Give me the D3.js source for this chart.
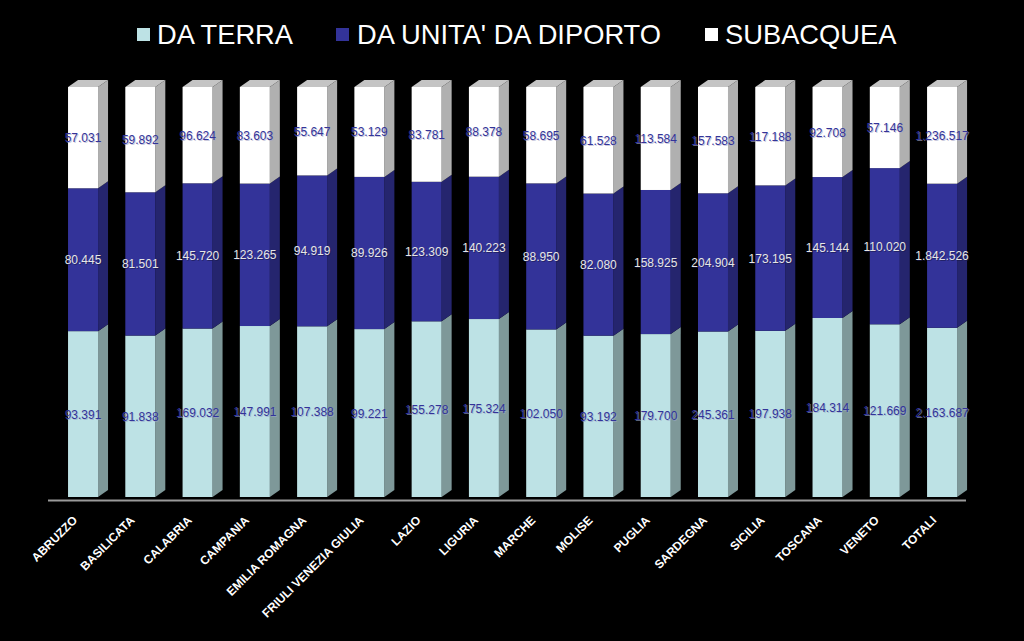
<!DOCTYPE html>
<html>
<head>
<meta charset="utf-8">
<script src="https://cdn.jsdelivr.net/npm/d3@7/dist/d3.min.js"></script>
<style>
  html, body { margin: 0; padding: 0; background: #000; }
  svg { display: block; }
  text { font-family: Arial, "Liberation Sans", sans-serif; }
</style>
</head>
<body>
<svg id="chart" width="1024" height="641"></svg>
<script>
const categories = ["ABRUZZO","BASILICATA","CALABRIA","CAMPANIA","EMILIA ROMAGNA","FRIULI VENEZIA GIULIA","LAZIO","LIGURIA","MARCHE","MOLISE","PUGLIA","SARDEGNA","SICILIA","TOSCANA","VENETO","TOTALI"];
const seriesNames = ["DA TERRA", "DA UNITA' DA DIPORTO", "SUBACQUEA"];
const daTerra = [93391, 91838, 169032, 147991, 107388, 99221, 155278, 175324, 102050, 93192, 179700, 245361, 197938, 184314, 121669, 2163687];
const daUnita = [80445, 81501, 145720, 123265, 94919, 89926, 123309, 140223, 88950, 82080, 158925, 204904, 173195, 145144, 110020, 1842526];
const subacquea = [57031, 59892, 96624, 83603, 55647, 53129, 83781, 88378, 58695, 61528, 113584, 157583, 117188, 92708, 57146, 1236517];

const seriesValues = [daTerra, daUnita, subacquea];
const frontColors = ["#bde2e5", "#333399", "#ffffff"];
const sideColors = ["#7e9899", "#25256e", "#b0b0b0"];
const topColor = "#c4c4c4";
const labelColors = ["#333399", "#e6e6e6", "#333399"];
const shadowColors = ["#9aa6c8", "#1a1a4a", "#a8a8c8"];

const svg = d3.select("#chart");
const W = 1024, H = 641;
svg.append("rect").attr("width", W).attr("height", H).attr("fill", "#000");

const fmt = d3.formatLocale({decimal: ",", thousands: ".", grouping: [3]}).format(",d");

const x = d3.scaleBand().domain(categories).range([39.4, 985.7]).paddingInner(0.4762).paddingOuter(0.5);
const y = d3.scaleLinear().domain([0, 1]).range([497, 87]);
const DX = 10, DY = -7;

const rows = categories.map((c, i) => {
  const o = {cat: c};
  seriesNames.forEach((s, k) => o[s] = seriesValues[k][i]);
  return o;
});
const stack = d3.stack().keys(seriesNames).offset(d3.stackOffsetExpand);
const stacked = stack(rows);

// floor line
svg.append("line").attr("x1", 48).attr("x2", 966).attr("y1", 500.5).attr("y2", 500.5)
  .attr("stroke", "#9a9a9a").attr("stroke-width", 2);

const g = svg.append("g");
stacked.forEach((layer, k) => {
  layer.forEach((d, i) => {
    const cat = categories[i];
    const x0 = x(cat), x1 = x0 + x.bandwidth();
    const yb = y(d[0]), yt = y(d[1]);
    g.append("polygon")
      .attr("points", [[x1, yb], [x1 + DX, yb + DY], [x1 + DX, yt + DY], [x1, yt]].map(p => p.join(",")).join(" "))
      .attr("fill", sideColors[k]);
    g.append("rect").attr("x", x0).attr("y", yt).attr("width", x1 - x0).attr("height", yb - yt)
      .attr("fill", frontColors[k]);
    if (k === stacked.length - 1) {
      g.append("polygon")
        .attr("points", [[x0, yt], [x0 + DX, yt + DY], [x1 + DX, yt + DY], [x1, yt]].map(p => p.join(",")).join(" "))
        .attr("fill", topColor);
    }
  });
});

// value labels
stacked.forEach((layer, k) => {
  layer.forEach((d, i) => {
    const cat = categories[i];
    const cx = x(cat) + x.bandwidth() / 2;
    const cy = (y(d[0]) + y(d[1])) / 2 + 4.5;
    const txt = fmt(seriesValues[k][i]);
    g.append("text").attr("x", cx + 1).attr("y", cy + 1).attr("text-anchor", "middle")
      .attr("font-size", 12).attr("fill", shadowColors[k]).attr("opacity", 0.6).text(txt);
    g.append("text").attr("x", cx).attr("y", cy).attr("text-anchor", "middle")
      .attr("font-size", 12).attr("fill", labelColors[k]).text(txt);
  });
});

// x-axis labels
categories.forEach(c => {
  const ax = x(c) + x.bandwidth() / 2 - 5, ay = 521;
  svg.append("text").attr("transform", `translate(${ax},${ay}) rotate(-45)`)
    .attr("text-anchor", "end").attr("font-size", 12).attr("font-weight", "bold")
    .attr("fill", "#ffffff").text(c);
});

// legend
const legendItems = [
  {name: seriesNames[0], sx: 137, tx: 157},
  {name: seriesNames[1], sx: 336, tx: 357},
  {name: seriesNames[2], sx: 705, tx: 725}
];
legendItems.forEach((it, k) => {
  svg.append("rect").attr("x", it.sx).attr("y", 28).attr("width", 13).attr("height", 13).attr("fill", frontColors[k]);
  svg.append("text").attr("x", it.tx).attr("y", 44).attr("font-size", 27.3).attr("fill", "#ffffff").text(it.name);
});
</script>
</body>
</html>
